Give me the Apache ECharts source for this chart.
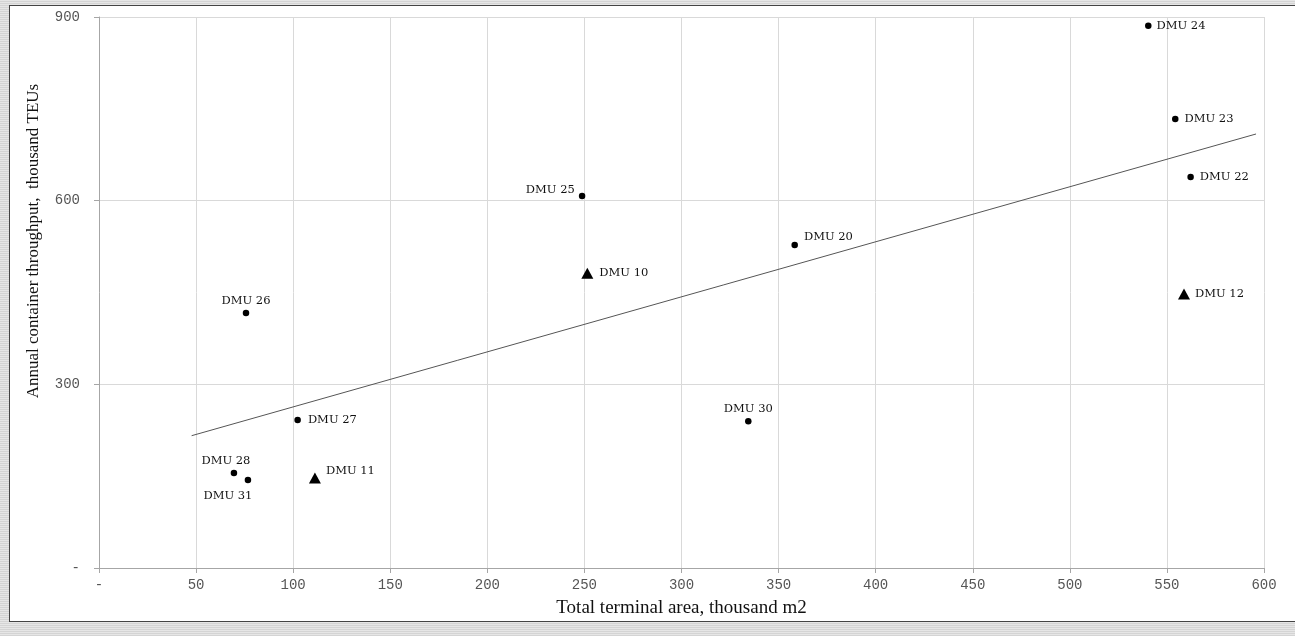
<!DOCTYPE html>
<html>
<head>
<meta charset="utf-8">
<script src="https://cdn.jsdelivr.net/npm/echarts@6/dist/echarts.min.js"></script>
<style>
  html, body { margin: 0; padding: 0; width: 1295px; height: 636px; overflow: hidden;
    background: repeating-linear-gradient(0deg, #d4d4d4 0 1px, #e6e6e6 1px 2px); }
  #frame { position: absolute; left: 9px; top: 5px; width: 1300px; height: 617px;
    background: #fff; border: 1px solid #444; box-sizing: border-box; }
  #chart { position: absolute; left: 0; top: 0; width: 1295px; height: 636px; }
</style>
</head>
<body>
<div id="frame"></div>
<div id="chart"></div>
<script>
// ---- data ----
const dmuNames  = ['DMU 24','DMU 23','DMU 22','DMU 12','DMU 25','DMU 10','DMU 20','DMU 30','DMU 26','DMU 27','DMU 28','DMU 31','DMU 11'];
const areaX     = [540.4, 554.3, 562.2, 558.8, 248.8, 251.5, 358.3, 334.4, 75.7, 102.3, 69.5, 76.7, 111.2];
const teuY      = [885.8, 733.4, 638.7, 447.6, 607.6, 481.4, 527.6, 239.6, 416.5, 241.7, 155.2, 143.7, 147.0];
const markType  = ['circle','circle','circle','triangle','circle','triangle','circle','circle','circle','circle','circle','circle','triangle'];
const trendX    = [47.7, 595.9];
const trendY    = [216.1, 708.9];
const xTicks    = [0, 50, 100, 150, 200, 250, 300, 350, 400, 450, 500, 550, 600];
const yTicks    = [0, 300, 600, 900];
const xTitle    = 'Total terminal area, thousand m2';
const yTitle    = 'Annual container throughput,  thousand TEUs';

// ---- label styling (presentation only) ----
const labelStyle = {
  'DMU 24': {position: 'right', distance: 5},
  'DMU 23': {position: 'right', distance: 6},
  'DMU 22': {position: 'right', distance: 6},
  'DMU 12': {position: 'right', distance: 5},
  'DMU 25': {position: 'left', distance: 4, offset: [0, -6]},
  'DMU 10': {position: 'right', distance: 6},
  'DMU 20': {position: 'right', distance: 6, offset: [0, -8]},
  'DMU 30': {position: 'top', distance: 3},
  'DMU 26': {position: 'top', distance: 3},
  'DMU 27': {position: 'right', distance: 7},
  'DMU 28': {position: 'top', distance: 3, offset: [-8, 0]},
  'DMU 31': {position: 'bottom', distance: 3, offset: [-20, 4]},
  'DMU 11': {position: 'right', distance: 5, offset: [0, -7]}
};

const labelFont = {fontFamily: 'DejaVu Serif', fontSize: 11.5, color: '#111'};
const tickFont  = {fontFamily: 'Liberation Mono', fontSize: 14, color: '#555'};

const pts = dmuNames.map((n, i) => ({
  name: n,
  value: [areaX[i], teuY[i]],
  symbol: markType[i],
  symbolSize: markType[i] === 'triangle' ? [12, 11] : 6.5,
  label: Object.assign({show: true, formatter: n}, labelFont, labelStyle[n])
}));

const chart = echarts.init(document.getElementById('chart'), null, {renderer: 'canvas'});
const fmt = v => (v === 0 ? '-' : String(v));
chart.setOption({
  backgroundColor: 'transparent',
  animation: false,
  grid: {left: 99, top: 17, width: 1165, height: 551, containLabel: false},
  xAxis: {
    type: 'value', min: 0, max: 600, interval: 50,
    name: xTitle, nameLocation: 'middle', nameGap: 31,
    nameTextStyle: {fontFamily: 'Liberation Serif', fontSize: 19, color: '#111'},
    axisLine: {show: true, lineStyle: {color: '#a6a6a6', width: 1}},
    axisTick: {show: true, length: 5, lineStyle: {color: '#a6a6a6'}},
    axisLabel: Object.assign({formatter: fmt, margin: 10}, tickFont),
    splitLine: {show: true, lineStyle: {color: '#d9d9d9', width: 1}}
  },
  yAxis: {
    type: 'value', min: 0, max: 900, interval: 300,
    axisLine: {show: true, lineStyle: {color: '#a6a6a6', width: 1}},
    axisTick: {show: true, length: 5, lineStyle: {color: '#a6a6a6'}},
    axisLabel: Object.assign({formatter: fmt, margin: 19}, tickFont),
    splitLine: {show: true, lineStyle: {color: '#d9d9d9', width: 1}}
  },
  graphic: [{
    type: 'text', x: 34, y: 241, rotation: Math.PI / 2,
    style: {text: yTitle, fontFamily: 'Liberation Serif', fontSize: 17, fill: '#111',
            align: 'center', verticalAlign: 'middle'}
  }],
  series: [
    {
      type: 'line',
      data: trendX.map((x, i) => [x, trendY[i]]),
      showSymbol: false, symbol: 'none',
      lineStyle: {color: '#555', width: 1},
      z: 2, silent: true
    },
    {
      type: 'scatter',
      data: pts,
      itemStyle: {color: '#000', opacity: 1},
      z: 3
    }
  ]
});
</script>
</body>
</html>
